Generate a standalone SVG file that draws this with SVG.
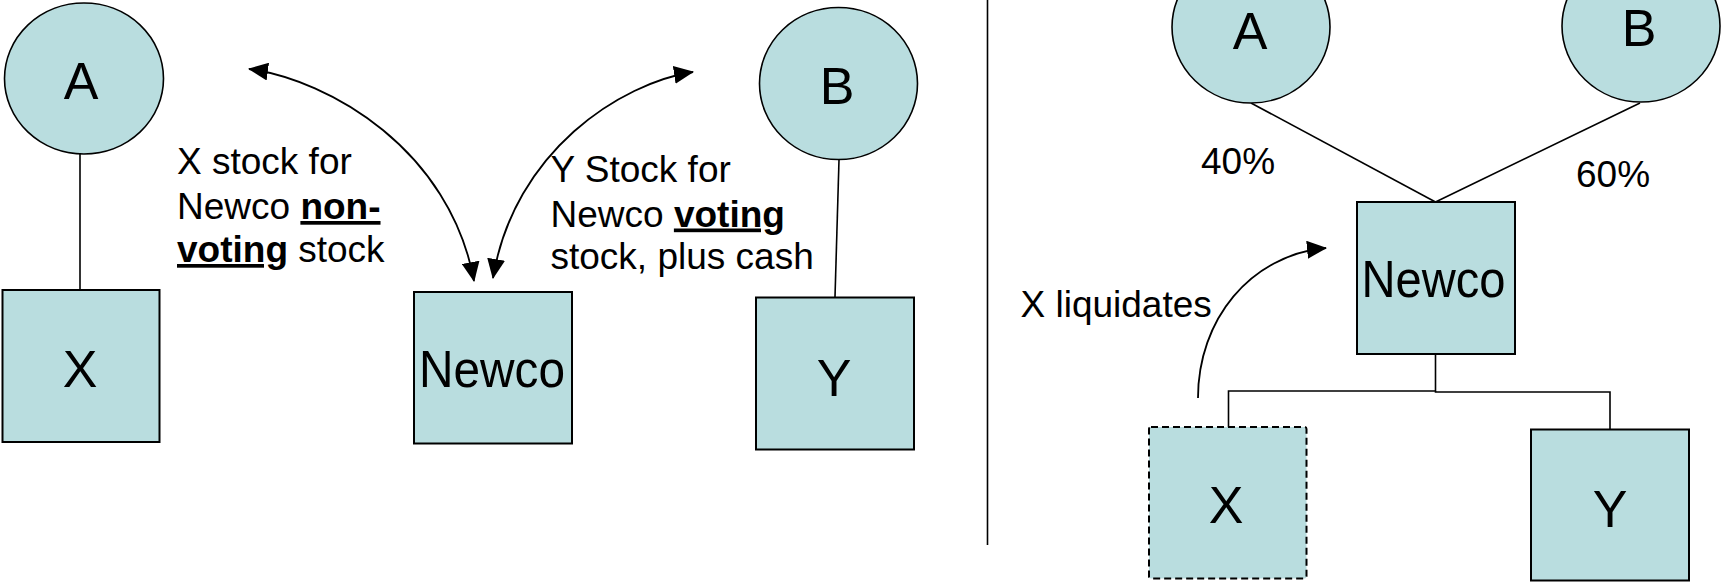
<svg xmlns="http://www.w3.org/2000/svg" width="1722" height="584" viewBox="0 0 1722 584">
<defs>
<style>
.node{fill:#B9DDDF;stroke:#000;stroke-width:1.6}
.box{fill:#B9DDDF;stroke:#000;stroke-width:2}
.dash{fill:#B9DDDF;stroke:#000;stroke-width:2;stroke-dasharray:7 4}
.big{font-family:"Liberation Sans",Arial,sans-serif;font-size:52px;fill:#000;text-anchor:middle}
.sm{font-family:"Liberation Sans",Arial,sans-serif;font-size:37px;fill:#000}
.b{font-weight:bold;text-decoration:underline}
.ln{fill:none;stroke:#000;stroke-width:1.6}
.arr{fill:none;stroke:#000;stroke-width:1.8}
</style>
<marker id="ah" viewBox="0 0 20 18" refX="19" refY="9" markerWidth="20" markerHeight="18" markerUnits="userSpaceOnUse" orient="auto-start-reverse">
<path d="M0,0 L20,9 L0,18 z" fill="#000"/>
</marker>
</defs>
<rect width="1722" height="584" fill="#fff"/>

<g id="connectors">
<line class="ln" x1="80" y1="154" x2="80" y2="290"/>
<line class="ln" x1="839" y1="160" x2="835" y2="297"/>
<line x1="987.5" y1="0" x2="987.5" y2="545" stroke="#000" stroke-width="1.6"/>
<path class="arr" d="M249,69 C330,80 450,150 474,281" marker-start="url(#ah)" marker-end="url(#ah)"/>
<path class="arr" d="M693,72 C621,83 514,151 493,278" marker-start="url(#ah)" marker-end="url(#ah)"/>
<line class="ln" x1="1251" y1="103" x2="1435.5" y2="202"/>
<line class="ln" x1="1640" y1="103" x2="1435.5" y2="202"/>
<polyline class="ln" points="1435.5,354 1435.5,391 1228.5,391 1228.5,427"/>
<polyline class="ln" points="1435.5,391 1435.5,392 1610,392 1610,429"/>
<path class="arr" d="M1198,398 C1198,320 1250,255 1326,248" marker-end="url(#ah)"/>
</g>

<g id="left-A"><ellipse class="node" cx="84" cy="78.5" rx="79.5" ry="75.5"/><text class="big" x="81" y="99">A</text></g>
<g id="left-B"><ellipse class="node" cx="838.5" cy="83.5" rx="79" ry="76"/><text class="big" x="837" y="104">B</text></g>
<g id="left-X"><rect class="box" x="2.5" y="290" width="157" height="152"/><text class="big" x="80" y="387">X</text></g>
<g id="left-Newco"><rect class="box" x="414" y="292" width="158" height="151.5"/><text class="big" x="492" y="387" textLength="146" lengthAdjust="spacingAndGlyphs">Newco</text></g>
<g id="left-Y"><rect class="box" x="756" y="297.5" width="158" height="152"/><text class="big" x="834" y="395.5">Y</text></g>

<g id="label-x-stock">
<text class="sm" x="177" y="174">X stock for</text>
<text class="sm" x="177" y="219"><tspan>Newco </tspan><tspan class="b">non-</tspan></text>
<text class="sm" x="177" y="262"><tspan class="b">voting</tspan><tspan> stock</tspan></text>
</g>
<g id="label-y-stock">
<text class="sm" x="550.5" y="181.5">Y Stock for</text>
<text class="sm" x="550.5" y="226.5"><tspan>Newco </tspan><tspan class="b">voting</tspan></text>
<text class="sm" x="550.5" y="268.5">stock, plus cash</text>
</g>

<g id="right-A"><ellipse class="node" cx="1251" cy="27" rx="79" ry="76"/><text class="big" x="1250" y="48.5">A</text></g>
<g id="right-B"><ellipse class="node" cx="1641" cy="26" rx="79" ry="76"/><text class="big" x="1639" y="46">B</text></g>
<g id="right-Newco"><rect class="box" x="1357" y="202" width="158" height="152"/><text class="big" x="1433.5" y="296.5" textLength="144" lengthAdjust="spacingAndGlyphs">Newco</text></g>
<g id="right-X"><rect class="dash" x="1149" y="427" width="157.5" height="151.5" rx="2"/><text class="big" x="1226" y="523">X</text></g>
<g id="right-Y"><rect class="box" x="1531" y="429.5" width="158" height="151"/><text class="big" x="1610" y="526.5">Y</text></g>

<g id="labels-right">
<text class="sm" x="1201" y="174">40%</text>
<text class="sm" x="1576" y="186.5">60%</text>
<text class="sm" x="1020.5" y="317">X liquidates</text>
</g>
</svg>
